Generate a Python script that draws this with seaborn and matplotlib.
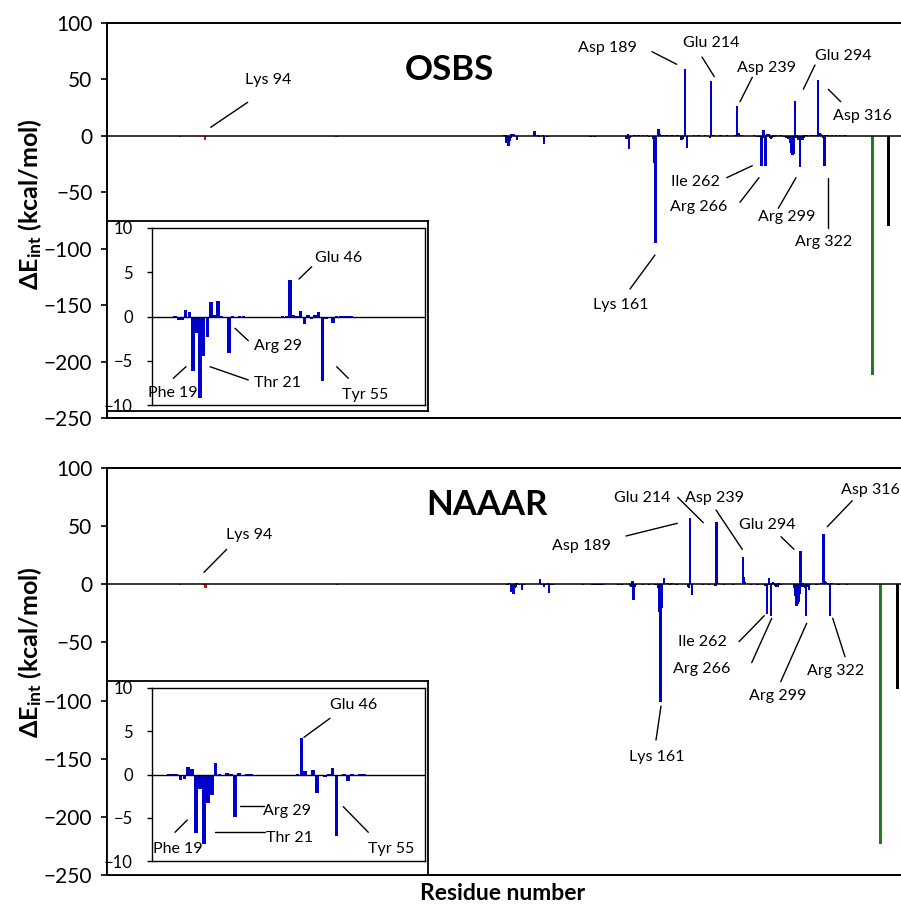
import numpy as np
import pandas as pd
import matplotlib
matplotlib.use("Agg")
import matplotlib.pyplot as plt
import seaborn as sns
from matplotlib.lines import Line2D

sns.set_theme(style="ticks")
plt.rcParams["font.family"] = ["Lato", "DejaVu Sans"]
plt.rcParams["mathtext.fontset"] = "custom"
plt.rcParams["mathtext.rm"] = "Lato"
plt.rcParams["mathtext.bf"] = "Lato:bold"
plt.rcParams["mathtext.it"] = "Lato:italic"
plt.rcParams["mathtext.fallback"] = "stixsans"
for k in ["text.color", "axes.labelcolor", "xtick.color", "ytick.color", "axes.edgecolor"]:
    plt.rcParams[k] = "black"

# ---------------- data ----------------
# OSBS: partner chain (red) and main chain (blue), ligand (green), metal (black)
osbs_red_res = [70, 94, 219]
osbs_red_val = [-0.6, -3.6, -0.6]
osbs_blue_res = [12, 13, 14, 15, 16, 17, 18, 19, 20, 21, 22, 23, 24, 25, 26, 27, 28, 29, 30, 31, 32, 33,
                 44, 45, 46, 47, 48, 49, 50, 51, 52, 53, 54, 55, 56, 57, 58, 59, 60, 61, 62, 63,
                 86, 87, 96, 97, 99, 100, 102, 103, 105, 120, 123, 126, 128, 130,
                 133, 134, 135, 136, 137, 138, 141, 143, 145, 147, 149, 151, 153, 155,
                 159, 160, 161, 164, 165, 167, 168, 170, 171, 173, 175, 176, 178, 182, 184,
                 186, 187, 189, 191, 198, 200, 202, 204, 206, 208, 210, 213, 214, 215,
                 217, 220, 223, 226, 229, 232, 235, 237, 239, 240, 241,
                 243, 246, 249, 252, 255, 258, 260, 262, 263, 264, 265, 266,
                 267, 268, 269, 270, 271, 272, 273, 274, 276, 278, 280, 282, 284, 286,
                 288, 289, 290, 291, 292, 293, 294, 295, 296, 297, 298, 299,
                 300, 301, 302, 303, 305, 307, 309, 311, 313, 314, 315, 316, 317, 318, 319, 320, 321, 322, 323,
                 325, 327, 329, 331, 333, 335, 337, 339, 341, 343, 345, 347]
osbs_blue_val = [-0.1, -0.2, 0.05, -0.4, -0.4, 0.7, 0.5, -6.2, -1.9, -9.2, -4.5, -2.3, 1.6, 0.2, 1.8, 0.05, -0.1, -4.1, 0.05, -0.2, 0.05, 0.05,
                 0.1, 0.1, 4.1, 0.15, 0.05, 0.6, -0.9, 0.15, -0.3, 0.15, 0.55, -7.3, -0.3, -0.1, -0.7, 0.1, 0.1, 0.05, 0.05, 0.05,
                 -0.3, -0.3, -0.5, -0.4, -0.6, -0.5, -0.4, -0.6, -0.3, -0.3, -0.3, -0.3, 0.3, -0.5,
                 -2.5, -3.0, 2.0, -12.0, -2.0, -0.8, 0.4, -0.4, 0.5, -0.3, 0.6, -0.5, 0.4, -0.6,
                 -3.0, -24.0, -95.0, 6.0, 2.0, 1.0, 0.8, -0.5, 0.6, 0.8, -0.4, 0.5, 0.6, 0.4, -0.5,
                 -4.0, -3.0, 59.0, -11.0, 0.4, -0.3, 0.5, -0.4, 0.3, 0.4, -0.3, -2.0, 48.5, 0.8,
                 0.5, 0.3, 0.5, -0.3, 0.4, 0.3, -0.4, 0.5, 26.8, 2.5, 1.0,
                 0.5, -0.4, 0.3, -0.5, 0.4, -0.6, -0.8, -26.5, -1.0, 5.5, -1.5, -26.5,
                 1.0, 2.0, 1.5, -2.0, -2.5, -1.5, 1.0, -0.8, 0.5, -0.4, 0.6, -0.5, -0.8, -1.5,
                 -3.0, -6.0, -15.0, -17.0, -17.0, -16.0, 31.0, -2.0, 1.0, -4.0, -3.0, -28.0,
                 -1.5, -4.0, -2.0, 0.8, 0.5, -0.4, 0.6, 0.4, -0.5, 0.8, 1.2, 49.7, 2.0, 2.5, 1.5, 1.0, -1.5, -26.5, 1.0,
                 0.5, -0.4, 0.6, 0.3, 0.5, -0.3, 0.4, 0.3, 0.4, 0.3, 0.3, 0.3]
osbs_ligand_val = -211.6
osbs_metal_val = -80.0

# NAAAR
naaar_red_res = [70, 93, 94, 219]
naaar_red_val = [-0.5, -1.0, -3.4, -0.5]
naaar_blue_res = [12, 13, 14, 15, 16, 17, 18, 19, 20, 21, 22, 23, 24, 25, 26, 27, 28, 29, 30, 31, 32, 33,
                  45, 46, 47, 48, 49, 50, 51, 52, 53, 54, 55, 56, 57, 58, 59, 60, 61, 62,
                  87, 96, 98, 100, 102, 104, 106, 121, 124, 127,
                  132, 133, 134, 135, 136, 137,
                  140, 142, 144, 146, 148, 150, 152, 154, 156, 158, 159, 160, 161, 162, 164,
                  167, 168, 170, 172, 174, 176, 178, 187, 188, 189, 191,
                  195, 198, 201, 204, 207, 210, 212, 213, 214, 215,
                  218, 221, 224, 227, 230, 233, 236, 239, 240, 241,
                  244, 247, 250, 253, 256, 259, 260, 262, 263, 264, 265, 266,
                  267, 268, 269, 270, 271, 272, 273, 275, 277,
                  288, 289, 290, 291, 292, 293, 294, 295, 296, 297, 298, 299,
                  301, 302, 303, 305, 307, 309, 311, 313, 314, 315, 316, 317, 318, 319, 320, 321, 322, 323, 324,
                  326, 328, 330, 332, 334, 336, 338, 340, 342, 344, 346, 348, 350]
naaar_blue_val = [0.05, 0.05, 0.1, -0.6, -0.5, 0.9, 0.6, -6.8, -1.7, -8.0, -3.3, -2.4, 1.3, 0.05, -0.2, 0.2, 0.05, -4.9, 0.2, -0.2, 0.1, 0.05,
                  0.05, 4.2, 0.35, -0.2, 0.5, -2.1, -0.2, -0.25, 0.1, 0.7, -7.1, -0.2, 0.1, -0.75, 0.1, -0.1, 0.05, 0.05,
                  -0.3, -0.4, -0.3, -0.5, -0.3, -0.4, -0.3, -0.3, -0.3, 0.3,
                  -1.5, -2.0, 3.0, -13.5, -2.0, -1.0,
                  0.4, 0.5, -0.4, 0.6, 0.3, -0.5, 0.4, 0.5, -0.5, -1.0, -3.0, -24.0, -101.5, -20.0, 5.0,
                  1.0, 0.8, -0.6, 0.7, 0.5, -0.4, 0.6, -2.5, -3.5, 57.3, -9.5,
                  0.5, 0.4, -0.3, 0.5, -0.4, 0.3, 0.5, -1.5, 53.9, 1.0,
                  0.5, -0.4, 0.4, 0.3, -0.3, 0.5, 0.4, 23.3, 6.0, 2.0,
                  0.4, -0.3, 0.5, -0.4, 0.3, -1.0, -1.5, -25.8, -1.0, 5.5, -1.0, -27.0,
                  1.5, 2.0, 1.0, -1.5, -2.5, -2.0, 0.8, -0.5, 0.4,
                  -3.0, -10.0, -18.6, -17.0, -15.0, -8.0, 28.6, -2.0, 0.8, -2.5, -3.0, -27.0,
                  -2.5, -5.0, -1.0, 0.5, 0.4, -0.3, 0.5, 0.4, 0.8, 1.0, 43.0, 2.5, 2.0, 1.5, 1.0, -1.0, -27.0, 1.0, 0.8,
                  0.4, 0.3, -0.3, 0.4, 0.3, 0.3, -0.3, 0.4, 0.3, 0.3, 0.3, 0.3, 0.3]
naaar_ligand_val = -223.0
naaar_metal_val = -90.0

# category layout of the x axis (partner chain, main chain, ligand, metal)
osbs_chain_offset, osbs_blue_len, osbs_lig_pos, osbs_met_pos, osbs_xmax = 362, 360, 730, 745, 757
naaar_chain_offset, naaar_blue_len, naaar_lig_pos, naaar_met_pos, naaar_xmax = 366, 360, 736, 752, 755.5

RED, BLUE, GREEN, BLACK = "#ff0000", "#0000cd", "#237a23", "#000000"

W, H = 901, 906
fig = plt.figure(figsize=(W / 100, H / 100), dpi=100)
fig.patch.set_facecolor("white")


def fx(px):
    return px / W


def fy(py):
    return 1 - py / H


def add_axes_px(x0, y0, x1, y1):
    return fig.add_axes([fx(x0), fy(y1), (x1 - x0) / W, (y1 - y0) / H])


def full_series(res, val, n):
    s = pd.Series(0.0, index=np.arange(1, n + 1))
    s.loc[res] = val
    return s


def draw_main(ax, red_res, red_val, blue_res, blue_val, offset, blue_len,
              lig_pos, lig_val, met_pos, met_val, xmax):
    red = full_series(red_res, red_val, offset)
    blue = full_series(blue_res, blue_val, blue_len)
    df_red = pd.DataFrame({"pos": red.index, "val": red.values})
    df_blue = pd.DataFrame({"pos": blue.index + offset, "val": blue.values})
    df_lig = pd.DataFrame({"pos": [lig_pos], "val": [lig_val]})
    df_met = pd.DataFrame({"pos": [met_pos], "val": [met_val]})
    for df, c in [(df_red, RED), (df_blue, BLUE), (df_lig, GREEN), (df_met, BLACK)]:
        sns.barplot(data=df, x="pos", y="val", native_scale=True, width=2.3, color=c,
                    saturation=1, errorbar=None, linewidth=0, ax=ax)
    ax.axhline(0, color="black", lw=1.1, zorder=5)
    ax.set_xlim(0.5, xmax)
    ax.set_ylim(-250, 100)
    ax.set_yticks(np.arange(-250, 101, 50))
    ax.set_xticks([])
    ax.set_xlabel("")
    ax.set_ylabel("")
    ax.tick_params(axis="y", direction="out", length=4.5, width=1.2, labelsize=15, pad=6)
    for s in ["left", "top", "bottom"]:
        ax.spines[s].set_linewidth(1.4)
    ax.spines["right"].set_visible(False)
    return blue


def draw_inset(ax, blue, xlo, xhi):
    sub = blue[(blue.index > xlo - 3) & (blue.index < xhi + 3)]
    df = pd.DataFrame({"pos": sub.index, "val": sub.values})
    sns.barplot(data=df, x="pos", y="val", native_scale=True, width=0.95, color=BLUE,
                saturation=1, errorbar=None, linewidth=0, ax=ax)
    ax.axhline(0, color="black", lw=1.0, zorder=5)
    ax.set_xlim(xlo, xhi)
    ax.set_ylim(-10, 10)
    ax.set_yticks([-10, -5, 0, 5, 10])
    ax.set_xticks([])
    ax.set_xlabel("")
    ax.set_ylabel("")
    ax.tick_params(axis="y", direction="out", length=3.6, width=1.0, labelsize=12, pad=10)
    for s in ax.spines.values():
        s.set_linewidth(1.0)
        s.set_visible(True)


def leader(x0, y0, x1, y1):
    fig.add_artist(Line2D([fx(x0), fx(x1)], [fy(y0), fy(y1)], color="black", lw=1.0))


def label(x, y, s, size=11.5, **kw):
    fig.text(fx(x), fy(y), s, ha="center", va="center", fontsize=size, **kw)


# ---------------- top panel: OSBS ----------------
ax1 = add_axes_px(107, 23, 901, 418)
blue_o = draw_main(ax1, osbs_red_res, osbs_red_val, osbs_blue_res, osbs_blue_val,
                   osbs_chain_offset, osbs_blue_len, osbs_lig_pos, osbs_ligand_val,
                   osbs_met_pos, osbs_metal_val, osbs_xmax)

# ---------------- bottom panel: NAAAR ----------------
ax2 = add_axes_px(107, 468, 901, 875)
blue_n = draw_main(ax2, naaar_red_res, naaar_red_val, naaar_blue_res, naaar_blue_val,
                   naaar_chain_offset, naaar_blue_len, naaar_lig_pos, naaar_ligand_val,
                   naaar_met_pos, naaar_metal_val, naaar_xmax)

# inset frames (white chart areas)
for (bx0, by0, bx1, by1) in [(107, 221, 428, 411), (107, 681, 428, 875)]:
    fr = fig.add_axes([fx(bx0), fy(by1), (bx1 - bx0) / W, (by1 - by0) / H])
    fr.set_xticks([]); fr.set_yticks([])
    fr.set_facecolor("white")
    for s in fr.spines.values():
        s.set_linewidth(1.3)
        s.set_visible(True)

ins1 = add_axes_px(152, 228, 425, 405)
draw_inset(ins1, blue_o, 7.6, 83.6)
ins2 = add_axes_px(152, 688, 425, 861)
draw_inset(ins2, blue_n, 7.7, 77.7)

# titles
label(449.7, 70, "OSBS", size=25, fontweight="bold")
label(487, 505, "NAAAR", size=25, fontweight="bold")

# y labels and x label
ylab = r"$\mathbf{\Delta E_{int}}$ (kcal/mol)"
fig.text(fx(30), fy(204), ylab, rotation=90, ha="center", va="center", fontsize=18, fontweight="bold")
fig.text(fx(30), fy(652), ylab, rotation=90, ha="center", va="center", fontsize=18, fontweight="bold")
label(503, 893, "Residue number", size=16.5, fontweight="bold")

# ---- OSBS annotations ----
label(268, 80, "Lys 94"); leader(247.7, 102.3, 210.7, 127.3)
label(607.7, 48, "Asp 189"); leader(652, 51.7, 676.7, 64.3)
label(711.3, 43, "Glu 214"); leader(702, 57, 714.3, 76.7)
label(766.3, 68, "Asp 239"); leader(752.3, 77.3, 740, 101.7)
label(843.5, 56, "Glu 294"); leader(815, 65, 803.3, 89.3)
label(862, 116, "Asp 316"); leader(828.3, 89.3, 840.7, 101.7)
label(695.5, 182, "Ile 262"); leader(726.7, 177.7, 752.3, 165.7)
label(699, 207, "Arg 266"); leader(740, 202.3, 759, 177.7)
label(786.8, 217, "Arg 299"); leader(778.3, 208.3, 796, 177.7)
label(824, 242, "Arg 322"); leader(828.3, 178.3, 828.3, 228.3)
label(621, 305, "Lys 161"); leader(655, 255, 630, 289)
# OSBS inset annotations
label(338.8, 258.3, "Glu 46"); leader(311.7, 266.7, 299, 279)
label(277.8, 346, "Arg 29"); leader(235, 328.3, 248.3, 340.7)
label(277, 383, "Thr 21"); leader(210, 366.7, 248.3, 380)
label(173, 393, "Phe 19"); leader(173.3, 378.3, 186, 366.7)
label(364.7, 395, "Tyr 55"); leader(336.7, 366.7, 348.3, 378.3)

# ---- NAAAR annotations ----
label(248.7, 535, "Lys 94"); leader(226.7, 549.3, 204, 572.3)
label(642.5, 498.3, "Glu 214"); leader(677.7, 497.3, 703.3, 522.7)
label(714.3, 498.3, "Asp 239"); leader(716, 510, 742.3, 549.3)
label(581.7, 546, "Asp 189"); leader(626, 536, 677.3, 523.3)
label(767.5, 525, "Glu 294"); leader(781, 536.7, 794, 549.3)
label(870, 490, "Asp 316"); leader(852.3, 500.7, 827.3, 526.7)
label(702, 642, "Ile 262"); leader(739, 641.7, 764.3, 615.7)
label(702, 669, "Arg 266"); leader(751.7, 662.7, 771.7, 618.3)
label(777.5, 696, "Arg 299"); leader(780.7, 681.7, 806.7, 623.3)
label(836, 671, "Arg 322"); leader(845, 656.7, 832.7, 618.3)
label(657, 757, "Lys 161"); leader(661, 706, 656, 740)
# NAAAR inset annotations
label(353.7, 705, "Glu 46"); leader(330, 718.3, 304, 737.3)
label(287.3, 810.8, "Arg 29"); leader(240, 806, 264, 806)
label(289, 837.5, "Thr 21"); leader(215, 832.3, 265, 832.3)
label(177.5, 849, "Phe 19"); leader(175, 832.3, 187.3, 820)
label(391.3, 849, "Tyr 55"); leader(343.3, 806.7, 368.3, 832.3)

fig.savefig("out.png", dpi=100, facecolor="white")
